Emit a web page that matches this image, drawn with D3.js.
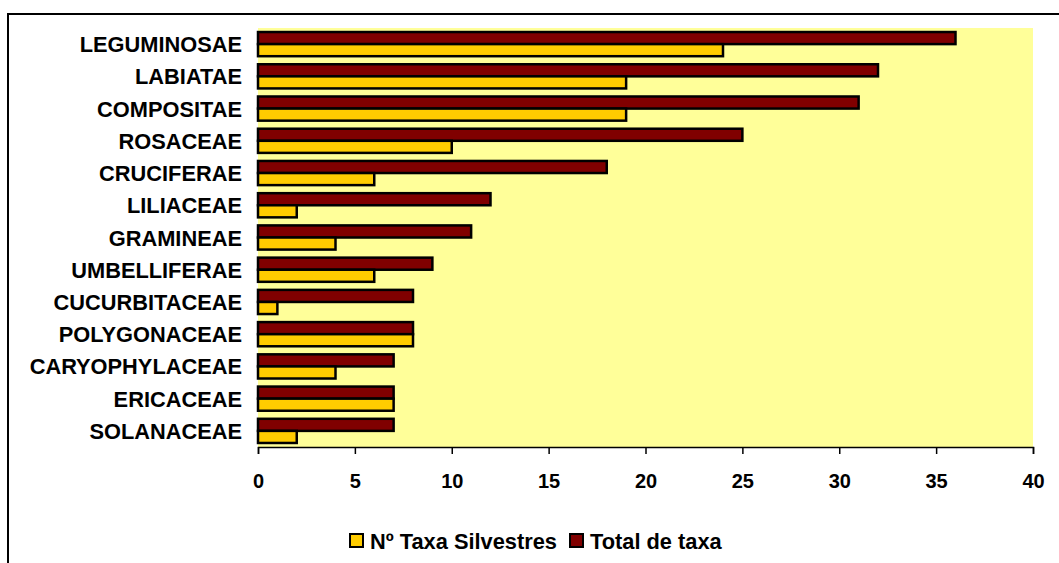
<!DOCTYPE html>
<html>
<head>
<meta charset="utf-8">
<script src="https://cdn.jsdelivr.net/npm/d3@7"></script>
<style>
  body { margin: 0; background: #fff; }
  text { font-family: Arial, "Liberation Sans", sans-serif; font-weight: bold; fill: #000; }
</style>
</head>
<body>
<div id="main"></div>
<script>
const families = ["LEGUMINOSAE", "LABIATAE", "COMPOSITAE", "ROSACEAE", "CRUCIFERAE", "LILIACEAE",
  "GRAMINEAE", "UMBELLIFERAE", "CUCURBITACEAE", "POLYGONACEAE", "CARYOPHYLACEAE", "ERICACEAE", "SOLANACEAE"];
const totalTaxa = [36, 32, 31, 25, 18, 12, 11, 9, 8, 8, 7, 7, 7];
const silvestres = [24, 19, 19, 10, 6, 2, 4, 6, 1, 8, 4, 7, 2];
const seriesNames = ["Total de taxa", "Nº Taxa Silvestres"];
const seriesColors = ["#800000", "#FFCC00"];
const xTicks = [0, 5, 10, 15, 20, 25, 30, 35, 40];

const width = 1059, height = 563;
const plot = { left: 258, right: 1033, top: 28, bottom: 447 };

const svg = d3.select("#main").append("svg").attr("width", width).attr("height", height);

// outer frame
svg.append("rect").attr("x", 8).attr("y", 14).attr("width", 1200).attr("height", 700)
  .attr("fill", "none").attr("stroke", "#000").attr("stroke-width", 2);

const x = d3.scaleLinear().domain([0, 40]).range([plot.left, plot.right]);
const y = d3.scaleBand().domain(families).range([plot.top, plot.bottom]).paddingInner(0.25).paddingOuter(0.125);
const ySub = d3.scaleBand().domain(seriesNames).range([0, y.bandwidth()]);

svg.append("rect").attr("x", plot.left).attr("y", plot.top)
  .attr("width", plot.right - plot.left).attr("height", plot.bottom - plot.top).attr("fill", "#FFFF99");

const rows = families.map((f, i) => ({ fam: f, vals: [totalTaxa[i], silvestres[i]] }));

const g = svg.selectAll("g.row").data(rows).enter().append("g")
  .attr("transform", d => `translate(0,${y(d.fam)})`);

g.selectAll("rect").data(d => d.vals.map((v, j) => ({ v, s: seriesNames[j], c: seriesColors[j] })))
  .enter().append("rect")
  .attr("x", x(0))
  .attr("y", d => ySub(d.s))
  .attr("width", d => x(d.v) - x(0))
  .attr("height", ySub.bandwidth())
  .attr("fill", d => d.c)
  .attr("stroke", "#000").attr("stroke-width", 2.5);

// category labels
svg.selectAll("text.cat").data(families).enter().append("text")
  .attr("class", "cat")
  .attr("x", 242).attr("y", d => y(d) + y.bandwidth() / 2 + 8)
  .attr("text-anchor", "end").attr("font-size", 21.8)
  .text(d => d);

// x axis
const xAxis = svg.append("g").attr("transform", `translate(0,${plot.bottom})`)
  .call(d3.axisBottom(x).tickValues(xTicks).tickSize(7).tickPadding(20));
xAxis.select(".domain").attr("stroke", "#000").attr("stroke-width", 1.5);
xAxis.selectAll(".tick line").attr("stroke", "#000").attr("stroke-width", 1.5);
xAxis.selectAll(".tick text").attr("font-size", 20).attr("font-family", "Arial, 'Liberation Sans', sans-serif")
  .attr("font-weight", "bold").attr("fill", "#000");

// legend
const legend = [
  { name: seriesNames[1], color: seriesColors[1], x: 350 },
  { name: seriesNames[0], color: seriesColors[0], x: 570 }
];
const lg = svg.selectAll("g.leg").data(legend).enter().append("g")
  .attr("transform", d => `translate(${d.x},534)`);
lg.append("rect").attr("width", 13).attr("height", 13).attr("fill", d => d.color)
  .attr("stroke", "#000").attr("stroke-width", 2);
lg.append("text").attr("x", 20).attr("y", 15).attr("font-size", 21.8).text(d => d.name);
</script>
</body>
</html>
